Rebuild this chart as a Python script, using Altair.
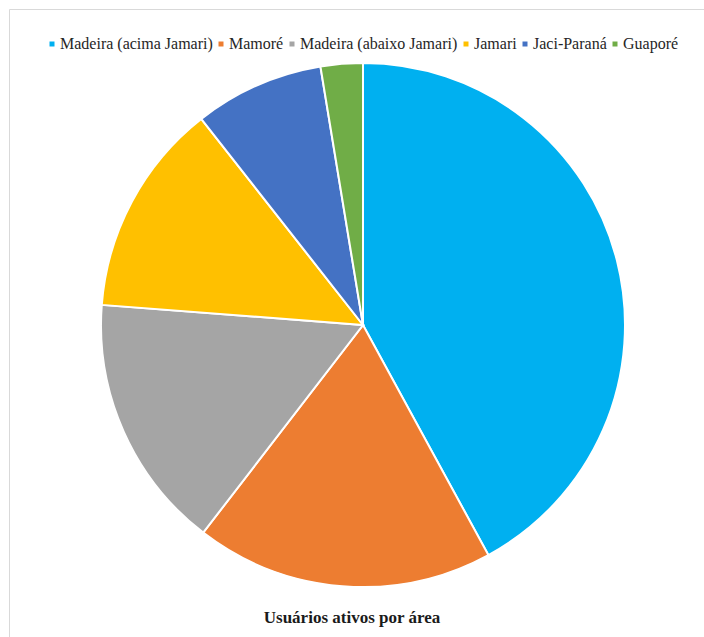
import altair as alt
import pandas as pd

categories = ["Madeira (acima Jamari)", "Mamoré", "Madeira (abaixo Jamari)", "Jamari", "Jaci-Paraná", "Guaporé"]
values = [42.1, 18.4, 15.8, 13.2, 8.0, 2.6]
colors = ["#00B0F0", "#ED7D31", "#A5A5A5", "#FFC000", "#4472C4", "#70AD47"]
title_text = "Usuários ativos por área"

df = pd.DataFrame({"area": categories, "valor": values, "ordem": list(range(len(categories)))})

pie = alt.Chart(df).mark_arc(outerRadius=262, stroke="white", strokeWidth=2).encode(
    theta=alt.Theta("valor:Q", stack=True),
    order=alt.Order("ordem:Q"),
    color=alt.Color(
        "area:N",
        sort=categories,
        scale=alt.Scale(domain=categories, range=colors),
        legend=alt.Legend(
            title=None,
            orient="none",
            direction="horizontal",
            columns=6,
            legendX=35,
            legendY=27,
            symbolType="square",
            symbolSize=25,
            symbolStrokeWidth=0,
            labelFont="Liberation Serif",
            labelFontSize=16,
            labelColor="#262626",
            labelOffset=0,
            labelLimit=400,
            columnPadding=0,
            padding=0,
        ),
    ),
    x=alt.value(354),
    y=alt.value(316),
)

title = alt.Chart(alt.Data(values=[{"t": title_text}])).mark_text(
    font="Liberation Serif", fontSize=17, fontWeight="bold", color="#1a1a1a",
    align="center", baseline="middle"
).encode(
    text="t:N",
    x=alt.value(343),
    y=alt.value(609),
)

chart = alt.layer(pie, title).properties(
    width=695, height=628,
    autosize=alt.AutoSizeParams(type="none"),
    padding={"left": 9, "top": 9, "right": 0, "bottom": 0},
).configure_view(
    stroke="#D9D9D9", strokeWidth=1
)

chart.save("out.html", embed_options={"renderer": "svg", "actions": False})
